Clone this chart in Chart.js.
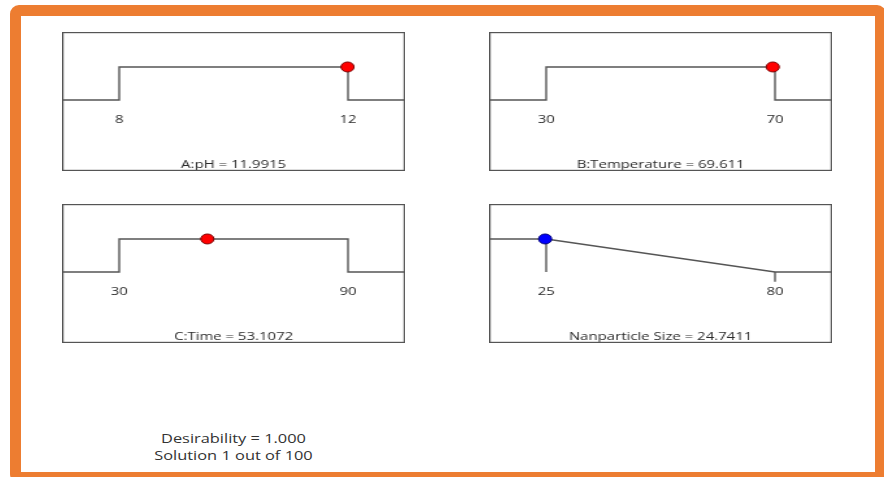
<!DOCTYPE html>
<html>
<head>
<meta charset="utf-8">
<script src="https://cdn.jsdelivr.net/npm/chart.js@4"></script>
<style>
  html, body { margin: 0; padding: 0; background: #fff; }
  body { width: 884px; height: 477px; position: relative; overflow: hidden; font-family: 'Open Sans', sans-serif; }
  .frame { position: absolute; left: 10px; top: 5px; width: 876px; height: 478px; box-sizing: border-box;
           border: 11px solid #ED7D31; border-radius: 9px; }
  .panel { position: absolute; width: 264px; height: 139px; transform: scaleX(1.3); transform-origin: 0 0; }
  .summary { position: absolute; left: 0; top: 430px; width: 467px; text-align: center; font-size: 13px;
             line-height: 17px; color: #333; transform: scaleX(1.26); transform-origin: 233.5px 0; }
</style>
</head>
<body>
<div class="frame"></div>
<div class="panel" style="left:62px;top:32px"><canvas id="ramp0"></canvas></div>
<div class="panel" style="left:489px;top:32px"><canvas id="ramp1"></canvas></div>
<div class="panel" style="left:62px;top:204px"><canvas id="ramp2"></canvas></div>
<div class="panel" style="left:489px;top:204px"><canvas id="ramp3"></canvas></div>
<div class="summary"><div id="desirability"></div><div id="solution"></div></div>
<script>
// Factor settings for the optimisation ramps
const factorNames = ['A:pH', 'B:Temperature', 'C:Time', 'Nanparticle Size'];
const factorGoals = ['range', 'range', 'range', 'minimize'];
const lowLimits = [8, 30, 30, 25];
const highLimits = [12, 70, 90, 80];
const axisMin = [7, 20, 15, 11.25];
const axisMax = [13, 80, 105, 93.75];
const optimumValues = [11.9915, 69.611, 53.1072, 24.7411];
const optimumDesirability = [1, 1, 1, 1];
const pointColors = ['#FF0000', '#FF0000', '#FF0000', '#0000FF'];
const pointBorders = ['#7a0000', '#7a0000', '#7a0000', '#00007a'];
const desirabilityText = '1.000';
const solutionNumber = 1;
const solutionCount = 100;

const LINE = '#555';
const TEXT = '#2b2b2b';

// Outline around each ramp panel
const panelFrame = {
  id: 'panelFrame',
  afterDraw(chart) {
    const { ctx, width, height } = chart;
    ctx.save();
    ctx.strokeStyle = LINE;
    ctx.lineWidth = 1.2;
    ctx.strokeRect(0.6, 0.6, width - 1.2, height - 1.2);
    ctx.restore();
  }
};

function rampPoints(i) {
  const lo = lowLimits[i], hi = highLimits[i], a = axisMin[i], b = axisMax[i];
  if (factorGoals[i] === 'minimize') {
    return [{ x: a, y: 1 }, { x: lo, y: 1 }, { x: hi, y: 0 }, { x: b, y: 0 }];
  }
  return [{ x: a, y: 0 }, { x: lo, y: 0 }, { x: lo, y: 1 }, { x: hi, y: 1 }, { x: hi, y: 0 }, { x: b, y: 0 }];
}

function lineSet(data) {
  return { data, showLine: true, borderColor: LINE, borderWidth: 1.4, pointRadius: 0, pointHoverRadius: 0, fill: false };
}

for (let i = 0; i < factorNames.length; i++) {
  const datasets = [
    {
      data: [{ x: optimumValues[i], y: optimumDesirability[i] }],
      pointStyle: 'circle', pointRadius: 5, pointHoverRadius: 5, pointBorderWidth: 1,
      pointBackgroundColor: pointColors[i], pointBorderColor: pointBorders[i], showLine: false
    },
    lineSet(rampPoints(i))
  ];
  if (factorGoals[i] === 'minimize') {
    datasets.push(lineSet([{ x: lowLimits[i], y: 1 }, { x: lowLimits[i], y: 0 }]));
    datasets.push(lineSet([{ x: highLimits[i], y: 0 }, { x: highLimits[i], y: -0.3 }]));
  }

  new Chart(document.getElementById('ramp' + i), {
    type: 'scatter',
    data: { datasets },
    plugins: [panelFrame],
    options: {
      responsive: true,
      maintainAspectRatio: false,
      animation: false,
      events: [],
      layout: { padding: 0, autoPadding: false },
      plugins: {
        legend: { display: false },
        tooltip: { enabled: false },
        title: {
          display: true, position: 'bottom', text: factorNames[i] + ' = ' + optimumValues[i],
          color: TEXT, font: { family: 'Open Sans', size: 11.5, weight: 'normal', lineHeight: 1.1 }, padding: 0
        }
      },
      scales: {
        x: {
          type: 'linear', min: axisMin[i], max: axisMax[i], position: { y: 0 },
          grid: { display: false, drawTicks: true, tickLength: 13 }, border: { display: false },
          afterBuildTicks: s => { s.ticks = [lowLimits[i], highLimits[i]].map(v => ({ value: v })); },
          ticks: { autoSkip: false, maxRotation: 0, padding: 0, color: TEXT, font: { family: 'Open Sans', size: 11.5 } }
        },
        y: { type: 'linear', min: -1.77, max: 2.06, display: false }
      }
    }
  });
}

document.getElementById('desirability').textContent = 'Desirability = ' + desirabilityText;
document.getElementById('solution').textContent = 'Solution ' + solutionNumber + ' out of ' + solutionCount;
</script>
</body>
</html>
